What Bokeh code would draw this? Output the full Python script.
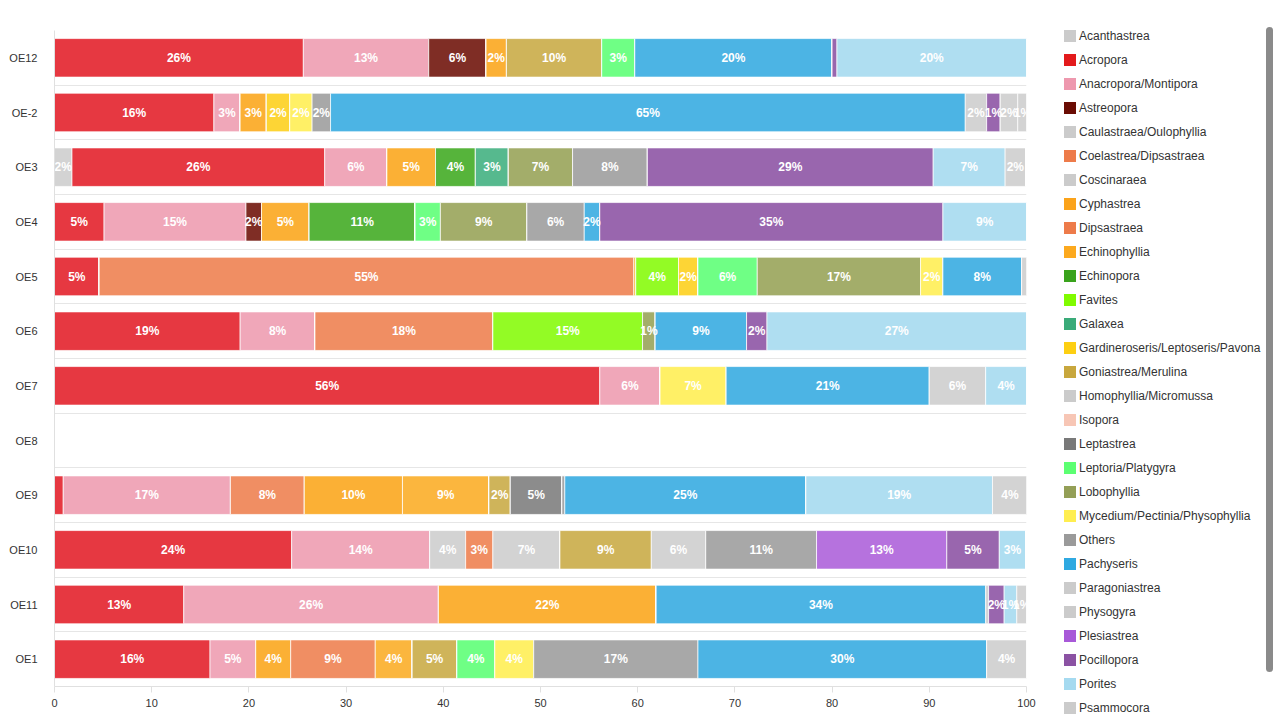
from bokeh.plotting import figure
from bokeh.layouts import row
from bokeh.models import ColumnDataSource, Range1d, FixedTicker, Div
from bokeh.core.properties import value
from bokeh.embed import file_html
from bokeh.resources import INLINE

# Survey stations, listed top to bottom
stations = ["OE12", "OE-2", "OE3", "OE4", "OE5", "OE6", "OE7", "OE8",
            "OE9", "OE10", "OE11", "OE1"]

# Percent cover per genus, one value per station (same order as stations)
acanthastrea   = [0, 0, 1.8, 0, 0, 0, 0, 0, 0, 0, 0, 0]
acropora       = [25.6, 16.4, 26.0, 5.1, 4.6, 19.1, 56.1, 0, 0.9, 24.4, 13.3, 16.0]
anacropora     = [12.9, 2.7, 6.4, 14.6, 0, 7.7, 6.2, 0, 17.2, 14.2, 26.2, 4.7]
astreopora     = [5.9, 0, 0, 1.6, 0, 0, 0, 0, 0, 0, 0, 0]
caulastraea    = [0, 0, 0, 0, 0, 0, 0, 0, 0, 3.7, 0, 0]
coelastrea     = [0, 0, 0, 0, 0, 0, 0, 0, 7.6, 2.8, 0, 0]
coscinaraea    = [0, 0, 0, 0, 0, 0, 0, 0, 0, 6.9, 0, 0]
cyphastrea     = [2.1, 2.7, 5.0, 4.9, 0, 0, 0, 0, 10.1, 0, 22.4, 3.6]
dipsastraea    = [0, 0, 0, 0, 55.0, 18.3, 0, 0, 0, 0, 0, 8.7]
echinophyllia  = [0, 0, 0, 0, 0.2, 0, 0, 0, 8.9, 0, 0, 3.8]
echinopora     = [0, 0, 4.1, 10.9, 0, 0, 0, 0, 0, 0, 0, 0]
favites        = [0, 0, 0, 0, 4.4, 15.4, 0, 0, 0, 0, 0, 0]
galaxea        = [0, 0, 3.4, 0, 0, 0, 0, 0, 0, 0, 0, 0]
gardineroseris = [0, 2.4, 0, 0, 2.0, 0, 0, 0, 0, 0, 0, 0]
goniastrea     = [9.8, 0, 0, 0, 0, 0, 0, 0, 2.2, 9.4, 0, 4.6]
homophyllia    = [0, 0, 0, 0, 0, 0, 0, 0, 0, 5.6, 0, 0]
isopora        = [0, 0, 0, 0, 0, 0, 0, 0, 0, 0, 0, 0]
leptastrea     = [0, 0, 0, 0, 0, 0, 0, 0, 5.3, 0, 0, 0]
leptoria       = [3.4, 0, 0, 2.6, 6.1, 0, 0, 0, 0, 0, 0, 3.9]
lobophyllia    = [0, 0, 6.6, 8.9, 16.8, 1.3, 0, 0, 0, 0, 0, 0]
mycedium       = [0, 2.3, 0, 0, 2.3, 0, 6.8, 0, 0, 0, 0, 4.0]
others         = [0, 1.9, 7.7, 5.9, 0, 0, 0, 0, 0.3, 11.4, 0, 16.9]
pachyseris     = [20.3, 65.3, 0, 1.6, 8.1, 9.4, 20.9, 0, 24.8, 0, 33.9, 29.7]
paragoniastrea = [0, 2.2, 0, 0, 0, 0, 0, 0, 0, 0, 0.3, 0]
physogyra      = [0, 0, 0, 0, 0, 0, 5.8, 0, 0, 0, 0, 0]
plesiastrea    = [0, 0, 0, 0, 0, 0, 0, 0, 0, 13.4, 0, 0]
pocillopora    = [0.5, 1.4, 29.4, 35.3, 0, 2.1, 0, 0, 0, 5.4, 1.6, 0]
porites        = [19.5, 0, 7.4, 8.6, 0, 26.7, 4.2, 0, 19.2, 2.7, 1.3, 0]
psammocora     = [0, 1.8, 2.1, 0, 0.6, 0, 0, 0, 3.6, 0, 1.0, 4.1]
further_genera = [0, 1.0, 0, 0, 0, 0, 0, 0, 0, 0, 0, 0]

genera = [
    ("Acanthastrea", acanthastrea),
    ("Acropora", acropora),
    ("Anacropora/Montipora", anacropora),
    ("Astreopora", astreopora),
    ("Caulastraea/Oulophyllia", caulastraea),
    ("Coelastrea/Dipsastraea", coelastrea),
    ("Coscinaraea", coscinaraea),
    ("Cyphastrea", cyphastrea),
    ("Dipsastraea", dipsastraea),
    ("Echinophyllia", echinophyllia),
    ("Echinopora", echinopora),
    ("Favites", favites),
    ("Galaxea", galaxea),
    ("Gardineroseris/Leptoseris/Pavona", gardineroseris),
    ("Goniastrea/Merulina", goniastrea),
    ("Homophyllia/Micromussa", homophyllia),
    ("Isopora", isopora),
    ("Leptastrea", leptastrea),
    ("Leptoria/Platygyra", leptoria),
    ("Lobophyllia", lobophyllia),
    ("Mycedium/Pectinia/Physophyllia", mycedium),
    ("Others", others),
    ("Pachyseris", pachyseris),
    ("Paragoniastrea", paragoniastrea),
    ("Physogyra", physogyra),
    ("Plesiastrea", plesiastrea),
    ("Pocillopora", pocillopora),
    ("Porites", porites),
    ("Psammocora", psammocora),
    ("Further genera", further_genera),
]

# (swatch colour, bar colour) per genus
palette = {
    "Acanthastrea": ("#cbcbcb", "#d3d3d3"),
    "Acropora": ("#e31a1c", "#e63841"),
    "Anacropora/Montipora": ("#ee98ae", "#f0a7b9"),
    "Astreopora": ("#6a0c04", "#7f2d25"),
    "Caulastraea/Oulophyllia": ("#cbcbcb", "#d3d3d3"),
    "Coelastrea/Dipsastraea": ("#ed7b4a", "#f08e63"),
    "Coscinaraea": ("#cbcbcb", "#d3d3d3"),
    "Cyphastrea": ("#fba31a", "#fbb035"),
    "Dipsastraea": ("#ed7b4a", "#f08e63"),
    "Echinophyllia": ("#fca91e", "#fbb63e"),
    "Echinopora": ("#3aa31c", "#56b43b"),
    "Favites": ("#80fb00", "#93fb25"),
    "Galaxea": ("#3aab79", "#56b98e"),
    "Gardineroseris/Leptoseris/Pavona": ("#fdcf12", "#fdd535"),
    "Goniastrea/Merulina": ("#c8a73d", "#cfb45a"),
    "Homophyllia/Micromussa": ("#cbcbcb", "#d3d3d3"),
    "Isopora": ("#f7c6b5", "#f8cfc1"),
    "Leptastrea": ("#797979", "#8c8c8c"),
    "Leptoria/Platygyra": ("#5cff72", "#6fff85"),
    "Lobophyllia": ("#949f57", "#a3ad6a"),
    "Mycedium/Pectinia/Physophyllia": ("#ffee50", "#fff066"),
    "Others": ("#9a9a9a", "#a8a8a8"),
    "Pachyseris": ("#2fa9e1", "#4cb4e4"),
    "Paragoniastrea": ("#cbcbcb", "#d3d3d3"),
    "Physogyra": ("#cbcbcb", "#d3d3d3"),
    "Plesiastrea": ("#a859d8", "#b672de"),
    "Pocillopora": ("#8b52a3", "#9966ae"),
    "Porites": ("#a5daf0", "#afdef1"),
    "Psammocora": ("#cbcbcb", "#d3d3d3"),
    "Further genera": ("#cbcbcb", "#d3d3d3"),
}
legend_genera = [g for g, _ in genera if g != "Further genera"]

n = len(stations)
row_y = [n - 1 - i for i in range(n)]  # top row gets the highest y

data = {"y": row_y}
for name, vals in genera:
    data[name] = vals
source = ColumnDataSource(data)

# Segment labels at the middle of each segment
lab_x, lab_y, lab_t = [], [], []
for i in range(n):
    left = 0.0
    for name, vals in genera:
        v = vals[i]
        if v >= 1.0:
            lab_x.append(left + v / 2.0)
            lab_y.append(row_y[i])
            lab_t.append("%d%%" % int(v + 0.5))
        left += v
labels = ColumnDataSource(dict(x=lab_x, y=lab_y, t=lab_t))

# ---- stacked bar chart ----
p = figure(width=1050, height=720, output_backend="svg", toolbar_location=None,
           x_range=Range1d(0, 100), y_range=Range1d(-0.5, n - 0.5),
           min_border_left=54, min_border_right=24, min_border_top=30,
           min_border_bottom=34, margin=0)
p.outline_line_color = None
p.background_fill_color = "white"
p.border_fill_color = "white"

names = [g for g, _ in genera]
p.hbar_stack(stackers=names, y="y", height=0.705, source=source,
             fill_color=[palette[g][1] for g in names],
             line_color="white", line_width=1, line_alpha=0.7)

p.text(x="x", y="y", text="t", source=labels, text_color="white",
       text_font=value("Liberation Sans"), text_font_style="bold",
       text_font_size="12px", text_align="center", text_baseline="middle")

p.xaxis.ticker = FixedTicker(ticks=list(range(0, 101, 10)))
p.xaxis.axis_line_color = "#e0e0e0"
p.xaxis.major_tick_line_color = "#e0e0e0"
p.xaxis.major_tick_out = 6
p.xaxis.major_tick_in = 0
p.xaxis.minor_tick_line_color = None
p.xaxis.major_label_standoff = 6
p.xaxis.major_label_text_font = "Liberation Sans"
p.xaxis.major_label_text_font_size = "11px"
p.xaxis.major_label_text_color = "#333333"

p.yaxis.ticker = FixedTicker(ticks=row_y)
p.yaxis.major_label_overrides = {row_y[i]: stations[i] for i in range(n)}
p.yaxis.axis_line_color = "#e0e0e0"
p.yaxis.major_tick_line_color = None
p.yaxis.major_tick_out = 0
p.yaxis.major_tick_in = 0
p.yaxis.minor_tick_line_color = None
p.yaxis.major_label_standoff = 17
p.yaxis.major_label_text_font = "Liberation Sans"
p.yaxis.major_label_text_font_size = "11px"
p.yaxis.major_label_text_color = "#333333"

p.xgrid.grid_line_color = None
p.ygrid.ticker = FixedTicker(ticks=[k - 0.5 for k in range(n + 1)])
p.ygrid.grid_line_color = "#e6e6e6"

# ---- scrollable-style legend panel beside the chart ----
first_top, pitch = 30, 24
parts = ['<div style="position:relative;width:230px;height:720px;'
         'font-family:\'Liberation Sans\',Arial,sans-serif;font-size:12px;'
         'color:#333333;background:#ffffff;overflow:hidden;">']
for k, g in enumerate(legend_genera):
    top = first_top + pitch * k
    parts.append('<div style="position:absolute;left:14px;top:%dpx;width:12px;'
                 'height:12px;background:%s;"></div>' % (top, palette[g][0]))
    parts.append('<div style="position:absolute;left:29px;top:%dpx;'
                 'line-height:14px;white-space:nowrap;">%s</div>' % (top - 1, g))
parts.append('<div style="position:absolute;left:216px;top:27px;width:7px;'
             'height:645px;background:#8a8a8a;border-radius:4px;"></div>')
parts.append('</div>')
legend_panel = Div(text="".join(parts), width=230, height=720, margin=0)

layout = row(p, legend_panel, spacing=0)
open("out.html", "w").write(file_html(layout, INLINE))
